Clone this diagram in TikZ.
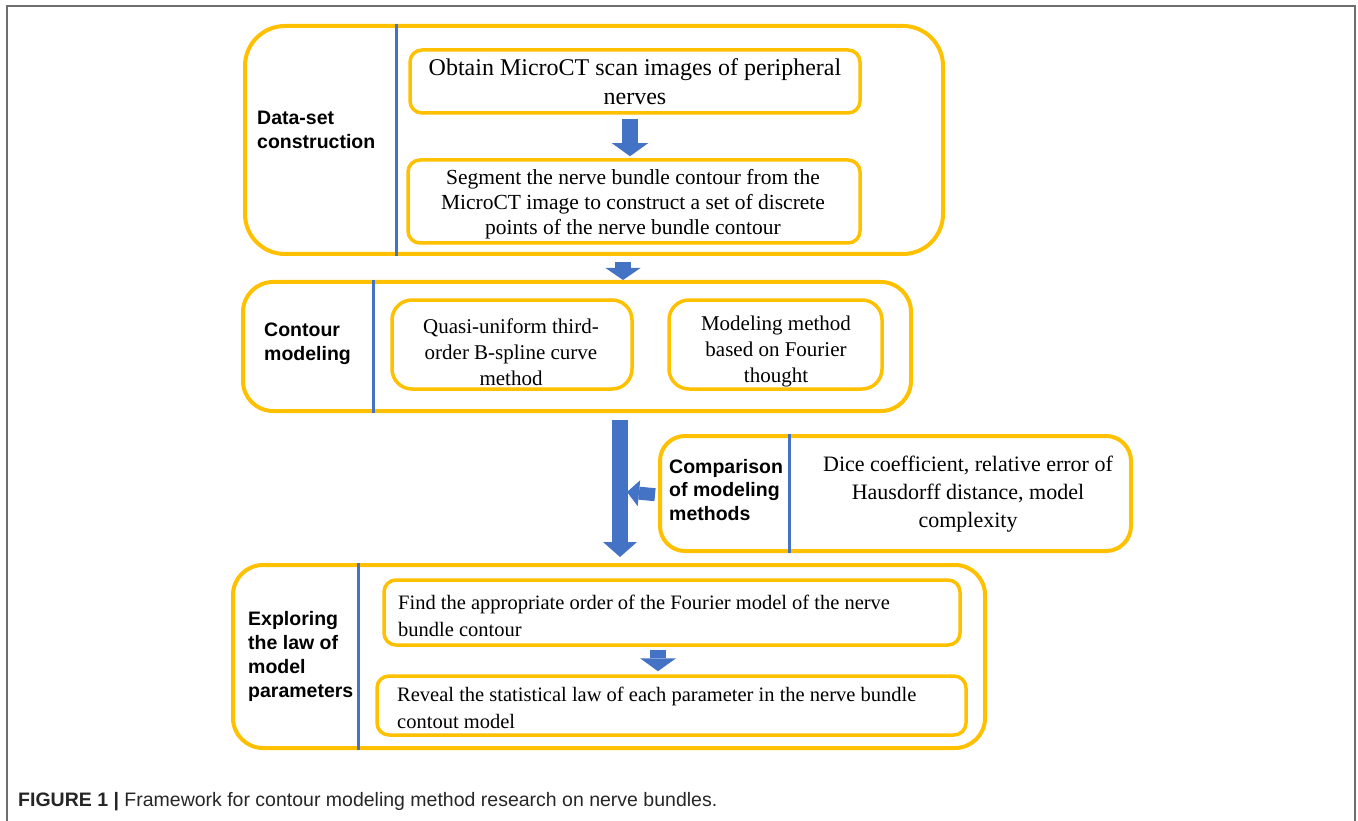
\documentclass[tikz,border=0pt]{standalone}
\usepackage{fontspec}
\setmainfont{Liberation Serif}
\setsansfont{Liberation Sans}
\usetikzlibrary{arrows.meta}
\definecolor{or}{HTML}{FFC000}
\definecolor{bleu}{HTML}{4472C4}
\definecolor{cadre}{HTML}{6E6E6E}

\begin{document}
\begin{tikzpicture}[x=1pt,y=-1pt]
\tikzset{
  grand/.style={draw=or, line width=4pt, rounded corners=#1, inner sep=0pt},
  petit/.style={draw=or, line width=3.5pt, rounded corners=#1, align=center, inner sep=6pt},
  titre/.style={font=\sffamily\bfseries\fontsize{19.5}{23.5}\selectfont, align=left, inner sep=0pt, anchor=west},
  sep/.style={bleu, line width=3pt},
  fleche/.style={bleu, line width=#1}
}
\useasboundingbox (0,0) rectangle (1358,821);

 % cadre de la figure
  \draw[cadre, line width=2.2pt] (7,821) -- (7,6) -- (1355,6) -- (1355,821);

 % premier bloc
  \node[grand=40pt, minimum width=698pt, minimum height=228pt] (ds) at (594,140) {};
  \draw[sep] ([xshift=-198pt]ds.north) -- ([xshift=-198pt]ds.south);
  \node[titre] (tds) at (257,130) {Data-set\\construction};
  \node[petit=12pt, minimum width=450pt, minimum height=63pt,
        font=\fontsize{24}{29}\selectfont] (obt) at (635,81.5)
        {Obtain MicroCT scan images of peripheral\\nerves};
  \node[petit=12pt, minimum width=452pt, minimum height=83pt] (seg) at (634,201.5) {};
  \node[align=center, inner sep=0pt, font=\fontsize{21.5}{25}\selectfont] (tseg) at (633,204)
        {Segment the nerve bundle contour from the\\MicroCT image to construct a set of discrete\\points of the nerve bundle contour};

 % deuxieme bloc
  \node[grand=30pt, minimum width=668pt, minimum height=129pt] (cm) at (577,346.5) {};
  \draw[sep] ([xshift=-204pt]cm.north) -- ([xshift=-204pt]cm.south);
  \node[titre] (tcm) at (264,344) {Contour\\modeling};
  \node[petit=20pt, minimum width=240pt, minimum height=89pt] (bsp) at (512,344.5) {};
  \node[petit=20pt, minimum width=213pt, minimum height=89pt] (fou) at (775.5,344.5) {};
  \node[align=center, inner sep=0pt, font=\fontsize{21}{26}\selectfont] (tbsp) at (511,352)
        {Quasi-uniform third-\\order B-spline curve\\method};
  \node[align=center, inner sep=0pt, font=\fontsize{21}{26}\selectfont] (tfou) at (776,351)
        {Modeling method\\based on Fourier\\thought};

 % comparaison
  \node[grand=25pt, minimum width=471pt, minimum height=115pt] (cmp) at (895.5,493.5) {};
  \draw[sep] ([xshift=-106.5pt]cmp.north) -- ([xshift=-106.5pt]cmp.south);
  \node[titre] (tcmp) at (669,490) {Comparison\\of modeling\\methods};
  \node[align=center, inner sep=0pt, font=\fontsize{22}{28}\selectfont] (dice) at (968,494)
        {Dice coefficient, relative error of\\Hausdorff distance, model\\complexity};

 % troisieme bloc
  \node[grand=30pt, minimum width=752pt, minimum height=183pt] (ex) at (609,656.5) {};
  \draw[sep] ([xshift=-251pt]ex.north) -- ([xshift=-251pt]ex.south);
  \node[titre, font=\sffamily\bfseries\fontsize{19.5}{24}\selectfont] (tex) at (248,656)
        {Exploring\\the law of\\model\\parameters};
  \node[petit=12pt, minimum width=576pt, minimum height=65pt] (ord) at (672,612.5) {};
  \node[petit=12pt, minimum width=589pt, minimum height=59pt] (loi) at (671.5,705.5) {};
  \node[anchor=west, align=left, inner sep=0pt, font=\fontsize{20.5}{27}\selectfont] (tord) at (398,616)
        {Find the appropriate order of the Fourier model of the nerve\\bundle contour};
  \node[anchor=west, align=left, inner sep=0pt, font=\fontsize{20.5}{27}\selectfont] (tloi) at (397,708)
        {Reveal the statistical law of each parameter in the nerve bundle\\contout model};

 % les fleches
  \coordinate (haut) at (620,420);
  \coordinate (bas) at (620,557);
  \coordinate (pointe) at (627,492);
  \draw[fleche=16pt, -{Triangle[width=36pt,length=13pt,line width=0pt]}, shorten <=4pt, shorten >=2pt]
    ([xshift=-5pt]obt.south) -- ([xshift=-4pt]seg.north);
  \draw[fleche=16pt, -{Triangle[width=35pt,length=12pt,line width=0pt]}, shorten <=6pt]
    ([xshift=29pt]ds.south) -- ([xshift=46pt]cm.north);
  \draw[fleche=16pt, -{Triangle[width=34pt,length=15pt,line width=0pt]}] (haut) -- (bas);
  \draw[fleche=13pt, -{Triangle[width=26pt,length=12pt,line width=0pt]}, shorten <=3pt]
    ([yshift=-1.5pt]cmp.west) -- (pointe);
  \draw[fleche=16pt, -{Triangle[width=36pt,length=13pt,line width=0pt]}, shorten <=3pt, shorten >=3pt]
    ([xshift=-14pt]ord.south) -- ([xshift=-13.5pt]loi.north);

 % legende
  \node[anchor=base west, inner sep=0pt, font=\sffamily\fontsize{19.5}{22}\selectfont, text=black!85] (leg) at (18,806)
    {\textbf{FIGURE 1 |} Framework for contour modeling method research on nerve bundles.};
\end{tikzpicture}
\end{document}
